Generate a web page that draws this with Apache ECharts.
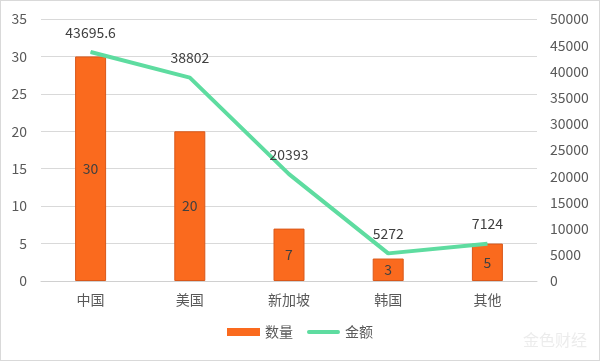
<!DOCTYPE html>
<html><head><meta charset="utf-8">
<script src="https://cdn.jsdelivr.net/npm/echarts@6/dist/echarts.min.js"></script>
<style>html,body{margin:0;padding:0;background:#fff}#c{width:600px;height:361px;box-sizing:border-box;border:1px solid #d9d9d9}</style>
</head><body><div id="c"></div>
<script>
const categories = ['中国', '美国', '新加坡', '韩国', '其他'];
const countValues = [30, 20, 7, 3, 5];
const amountValues = [43695.6, 38802, 20393, 5272, 7124];
const leftTicks = [0, 5, 10, 15, 20, 25, 30, 35];
const rightTicks = [0, 5000, 10000, 15000, 20000, 25000, 30000, 35000, 40000, 45000, 50000];

const font = '"Noto Sans CJK SC", "Noto Sans", sans-serif';
const chart = echarts.init(document.getElementById('c'), null, {renderer: 'canvas'});
chart.setOption({
  animation: false,
  textStyle: {fontFamily: font},
  grid: {left: 40, right: 62, top: 18, bottom: 79, containLabel: false},
  legend: {
    bottom: 16, left: 'center', itemGap: 14,
    textStyle: {fontFamily: font, fontSize: 14, color: '#595959'},
    data: [
      {name: '数量', icon: 'rect', itemStyle: {color: '#FA6A1E', borderWidth: 0}},
      {name: '金额', icon: 'path://M2,0 L33,0 A2,2 0 0 1 33,4 L2,4 A2,2 0 0 1 2,0 Z', itemStyle: {color: '#5EDCA0', borderWidth: 0}}
    ],
    itemWidth: 33, itemHeight: 8
  },
  xAxis: {
    type: 'category', data: categories,
    axisLine: {lineStyle: {color: '#d0d0d0'}},
    axisTick: {show: false},
    axisLabel: {fontFamily: font, fontSize: 14, color: '#595959', margin: 12}
  },
  yAxis: [
    {
      type: 'value', min: leftTicks[0], max: leftTicks[leftTicks.length - 1], interval: 5,
      axisLine: {show: false}, axisTick: {show: false},
      axisLabel: {fontFamily: font, fontSize: 14, color: '#595959', margin: 14},
      splitLine: {lineStyle: {color: '#d9d9d9'}}
    },
    {
      type: 'value', min: rightTicks[0], max: rightTicks[rightTicks.length - 1], interval: 5000,
      axisLine: {show: false}, axisTick: {show: false},
      axisLabel: {fontFamily: font, fontSize: 14, color: '#595959', margin: 13, formatter: v => String(v)},
      splitLine: {show: false}
    }
  ],
  series: [
    {
      name: '数量', type: 'bar', data: countValues, barWidth: 31, yAxisIndex: 0,
      itemStyle: {color: '#FA6A1E', borderColor: '#D9581A', borderWidth: 1},
      label: {show: true, position: 'inside', fontFamily: font, fontSize: 14, color: '#404040'}
    },
    {
      name: '金额', type: 'line', data: amountValues, yAxisIndex: 1,
      symbol: 'circle', symbolSize: 1, showSymbol: true,
      lineStyle: {color: '#5EDCA0', width: 4},
      itemStyle: {color: '#5EDCA0'},
      label: {show: true, position: 'top', distance: 12, fontFamily: font, fontSize: 14, color: '#404040',
        formatter: p => String(p.value)}
    }
  ],
  graphic: [{
    type: 'text', right: 12, bottom: 12,
    style: {text: '金色财经', fontFamily: font, fontSize: 16, fill: 'rgba(200,200,200,0.35)'}
  }]
});
</script></body></html>
